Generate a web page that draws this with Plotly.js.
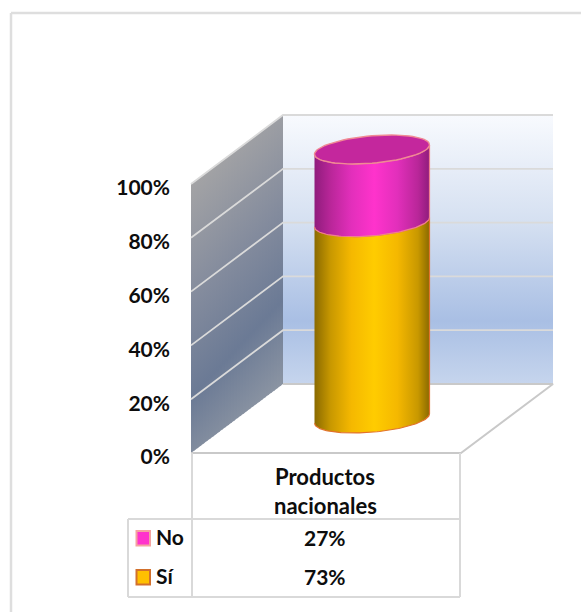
<!DOCTYPE html>
<html>
<head>
<meta charset="utf-8">
<script src="https://cdn.plot.ly/plotly-3.0.1.min.js"></script>
<style>html,body{margin:0;padding:0;background:#fff}#chart{width:581px;height:612px}</style>
</head>
<body>
<div id="chart"></div>
<script>
// Data
const categoryLines = ["Productos", "nacionales"];
const seriesNames = ["No", "Sí"];
const noValues = [27];
const siValues = [73];
const axisTicks = [0, 20, 40, 60, 80, 100];
const axisLabels = ["0%", "20%", "40%", "60%", "80%", "100%"];

// Page and axis scale
const W = 581, H = 612;
const plotLeft = 191, catWidth = 270, baseY = 453, pxPerUnit = 2.69;
const xRange = [-plotLeft / catWidth, (W - plotLeft) / catWidth];
const yRange = [-(H - baseY) / pxPerUnit, baseY / pxPerUnit];

// Oblique projection: depth 0 is the front of the floor, depth 1 the back wall
const depthX = 92 / catWidth, depthY = 25.65;
const proj = (f, d, v) => [f + d * depthX, v + d * depthY];
const polyTrace = (pts, extra) => Object.assign({
  x: pts.map(p => p[0]), y: pts.map(p => p[1]),
  type: "scatter", mode: "lines", hoverinfo: "skip", showlegend: false,
  line: {width: 0}
}, extra);

const traces = [];

// Side wall: narrow slices, each with a sheared vertical gradient
const wallScale = [[0, "#8c95a3"], [0.29, "#6b7a95"], [0.6, "#838b9d"], [1, "#a3a3a5"]];
const slices = 30, gradShear = 36.4;
for (let i = 0; i < slices; i++) {
  const d0 = i / slices, d1 = Math.min(1, (i + 1.4) / slices);
  traces.push(polyTrace(
    [proj(0, d0, 0), proj(0, d1, 0), proj(0, d1, 100), proj(0, d0, 100), proj(0, d0, 0)],
    {fill: "toself", fillcolor: "#78849a", fillgradient: {
      type: "vertical", colorscale: wallScale,
      start: -11 + gradShear * d0, stop: 100 + gradShear * d0
    }}
  ));
}

// Back wall
traces.push(polyTrace(
  [proj(0, 1, 0), proj(1, 1, 0), proj(1, 1, 100), proj(0, 1, 100), proj(0, 1, 0)],
  {fill: "toself", fillcolor: "#c5d4ec", fillgradient: {
    type: "vertical",
    colorscale: [[0, "#c6d5ed"], [0.235, "#a9bfe4"], [0.6, "#d5e0f1"], [1, "#f8fafe"]],
    start: depthY, stop: 100 + depthY
  }}
));

// Gridlines across both walls
axisTicks.forEach(v => {
  if (v === 0) return;
  const pts = [proj(0, 0, v), proj(0, 1, v), proj(1, 1, v)];
  traces.push(polyTrace(pts, {line: {color: "#dadada", width: 1.8}}));
});

// Floor outline
traces.push(polyTrace(
  [proj(0, 1, 0), proj(1, 1, 0), proj(1, 0, 0), proj(0, 0, 0)],
  {line: {color: "#c9c9c9", width: 2}}
));

// Stacked cylinder
const cylF = 0.5, cylD = 0.5, cylA = 57.5 / catWidth, cylB = 5.1, cylTilt = 1.75;
const rim = (v, t) => {
  const c = proj(cylF, cylD, v);
  return [c[0] + cylA * Math.cos(t), c[1] + cylTilt * Math.cos(t) + cylB * Math.sin(t)];
};
const arc = (v, t0, t1) => {
  const out = [];
  for (let i = 0; i <= 72; i++) out.push(rim(v, t0 + (t1 - t0) * i / 72));
  return out;
};
const xL = proj(cylF, cylD, 0)[0] - cylA, xR = proj(cylF, cylD, 0)[0] + cylA;
const shade = (edge, soft, full) => ({
  type: "horizontal", start: xL, stop: xR,
  colorscale: [[0, edge], [0.14, soft[0]], [0.32, soft[1]], [0.52, full], [0.72, soft[1]], [0.9, soft[0]], [1, edge]]
});
const segment = (v0, v1, fillgradient, lineColor) => {
  // Front face: lower rim left to right, then upper rim right to left
  const lower = arc(v0, Math.PI, 2 * Math.PI);
  const upper = arc(v1, 2 * Math.PI, Math.PI);
  const pts = lower.concat(upper, [lower[0]]);
  traces.push(polyTrace(pts, {fill: "toself", fillcolor: fillgradient.colorscale[3][1], fillgradient}));
  traces.push(polyTrace(lower.concat(upper), {line: {color: lineColor, width: 1.2}}));
};
const si = siValues[0], no = noValues[0];
segment(0, si, shade("#8a6a00", ["#c89800", "#f5b800"], "#ffcc00"), "#e2722c");
segment(si, si + no, shade("#8f1c7c", ["#b92699", "#e22fbb"], "#ff33cc"), "#ef7f8f");
const topRim = arc(si + no, 0, 2 * Math.PI);
traces.push(polyTrace(topRim, {fill: "toself", fillcolor: "#c4279d", line: {color: "#f08a94", width: 1.4}}));

// Helpers for page furniture placed in pixels
const px = x => x / W, py = y => 1 - y / H;
const rule = (x0, y0, x1, y1, color, width) => ({
  type: "line", xref: "paper", yref: "paper",
  x0: px(x0), y0: py(y0), x1: px(x1), y1: py(y1),
  line: {color: color, width: width}
});
const key = (x0, y0, x1, y1, fill, border) => ({
  type: "rect", xref: "paper", yref: "paper",
  x0: px(x0), y0: py(y0), x1: px(x1), y1: py(y1),
  fillcolor: fill, line: {color: border, width: 2}
});
const tableColor = "#d9d9d9";
const shapes = [
  rule(11, 13, W, 13, "#dedede", 2.5),
  rule(11, 13, 11, H, "#dedede", 2.5),
  rule(192, 453, 192, 597, tableColor, 2),
  rule(460, 453, 460, 597, tableColor, 2),
  rule(128, 519, 460, 519, tableColor, 2),
  rule(128, 597, 460, 597, tableColor, 2),
  rule(128, 519, 128, 597, tableColor, 2),
  key(136.5, 531, 150, 545.5, "#ff33cc", "#f4a3a0"),
  key(136.5, 570, 150, 584.5, "#ffc000", "#d2702c")
];

// Data table text
const textFont = {family: "Lato, Carlito, 'Open Sans', sans-serif", size: 21, color: "#0d0d0d", weight: 700};
const headFont = Object.assign({}, textFont, {size: 22});
const label = (text, x, y, anchor, font) => ({
  text: text, x: px(x), y: py(y), xref: "paper", yref: "paper",
  xanchor: anchor || "center", yanchor: "middle", showarrow: false, font: font || textFont
});
const annotations = [
  label(categoryLines[0], 325, 476, "center", headFont),
  label(categoryLines[1], 325, 506, "center", headFont),
  label(seriesNames[0], 154, 536, "left"),
  label(seriesNames[1], 154, 575, "left"),
  label(noValues[0] + "%", 325, 537),
  label(siValues[0] + "%", 325, 576)
];

const layout = {
  width: W, height: H,
  margin: {l: 0, r: 0, t: 0, b: 0},
  paper_bgcolor: "#ffffff", plot_bgcolor: "rgba(0,0,0,0)",
  showlegend: false, hovermode: false,
  xaxis: {range: xRange, visible: false, fixedrange: true},
  yaxis: {
    range: yRange, anchor: "free", position: plotLeft / W, fixedrange: true,
    tickmode: "array", tickvals: axisTicks, ticktext: axisLabels,
    ticks: "", showgrid: false, zeroline: false, showline: false,
    ticklabelstandoff: 21, ticklabelshift: 4, automargin: false,
    tickfont: textFont
  },
  shapes: shapes,
  annotations: annotations
};

Plotly.newPlot("chart", traces, layout, {displayModeBar: false, staticPlot: true});
</script>
</body>
</html>
